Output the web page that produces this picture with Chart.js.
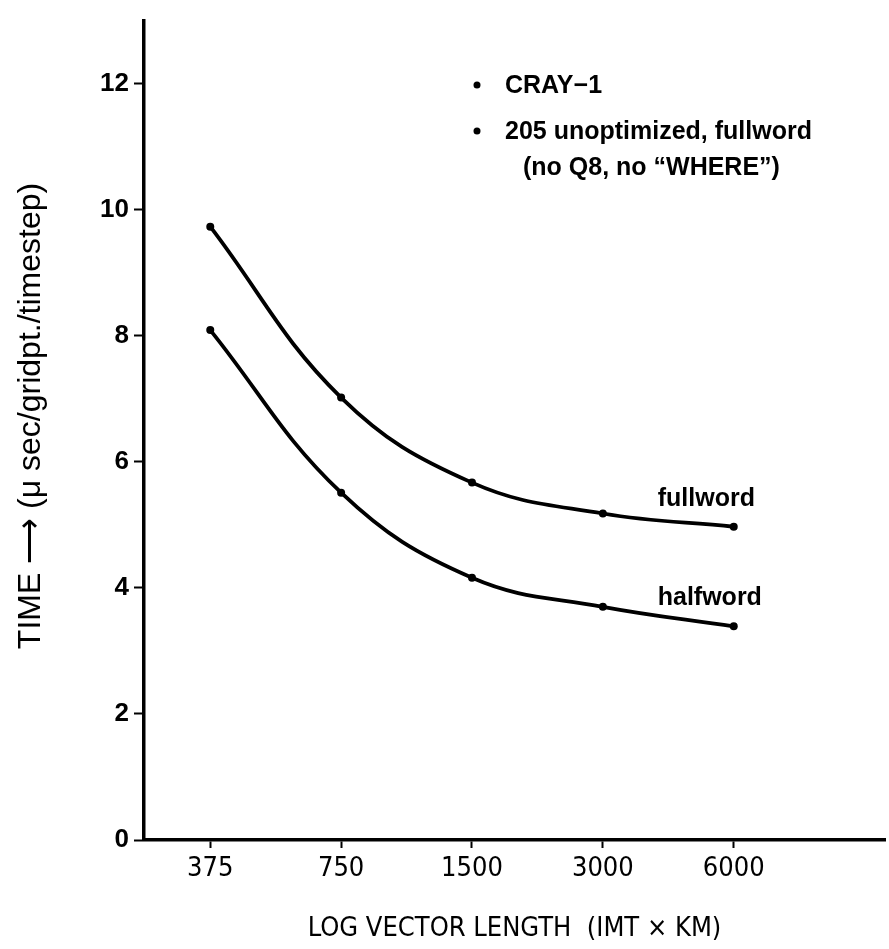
<!DOCTYPE html>
<html><head><meta charset="utf-8">
<script src="https://cdn.jsdelivr.net/npm/chart.js@4/dist/chart.umd.min.js"></script>
<style>html,body{margin:0;padding:0;background:#fff;} canvas{display:block;}</style>
</head><body>
<canvas id="c" width="889" height="949"></canvas>
<script>
const vectorLengths = [375, 750, 1500, 3000, 6000];
const fullwordTimes = [9.73, 7.02, 5.67, 5.18, 4.97];
const halfwordTimes = [8.09, 5.51, 4.16, 3.70, 3.39];
const xTickValues = [375, 750, 1500, 3000, 6000];
const yTickValues = [0, 2, 4, 6, 8, 10, 12];
const seriesNames = ['fullword', 'halfword'];
const legendLines = ['CRAY\u22121', '205 unoptimized, fullword', '(no Q8, no \u201CWHERE\u201D)'];
const xAxisTitle = 'LOG VECTOR LENGTH  (IMT \u00D7 KM)';
const yAxisTitle = 'TIME \u27F6 (\u03BC sec/gridpt./timestep)';

const NARROW = '"DejaVu Sans Condensed", "Liberation Sans Narrow", "Liberation Sans", sans-serif';
const SANS = '"Liberation Sans", Arial, sans-serif';

const annot = {
  id: 'annot',
  afterDraw(chart) {
    const {ctx} = chart;
    ctx.save();
    ctx.fillStyle = '#000';
    // y axis title
    ctx.save();
    ctx.font = '32px ' + SANS;
    ctx.textAlign = 'center';
    ctx.textBaseline = 'middle';
    ctx.translate(31, 416);
    ctx.rotate(-Math.PI / 2);
    ctx.fillText(yAxisTitle, 0, 0);
    ctx.restore();
    // curve labels
    ctx.font = 'bold 25px ' + SANS;
    ctx.textAlign = 'left';
    ctx.textBaseline = 'middle';
    seriesNames.forEach((name, i) => {
      const meta = chart.getDatasetMeta(i);
      const pt = meta.data[meta.data.length - 1];
      ctx.fillText(name, pt.x - 76, pt.y - 28);
    });
    // legend
    const bullets = [[477, 85], [477, 131]];
    bullets.forEach(([bx, by]) => {
      ctx.beginPath();
      ctx.arc(bx, by, 3.5, 0, Math.PI * 2);
      ctx.fill();
    });
    ctx.fillText(legendLines[0], 505, 86);
    ctx.fillText(legendLines[1], 505, 132);
    ctx.fillText(legendLines[2], 523, 168);
    ctx.restore();
  }
};

const mkData = (vals) => vectorLengths.map((v, i) => ({x: v, y: vals[i]}));
const lineStyle = {
  borderColor: '#000', backgroundColor: '#000', borderWidth: 3.8,
  pointRadius: 4, pointBackgroundColor: '#000', pointBorderWidth: 0,
  tension: 0.4, fill: false
};

new Chart(document.getElementById('c'), {
  type: 'line',
  data: {
    datasets: [
      Object.assign({label: seriesNames[0], data: mkData(fullwordTimes)}, lineStyle),
      Object.assign({label: seriesNames[1], data: mkData(halfwordTimes)}, lineStyle)
    ]
  },
  options: {
    responsive: false,
    animation: false,
    devicePixelRatio: 1,
    layout: {padding: {top: 13, right: 0, left: 0, bottom: 0}},
    plugins: {legend: {display: false}, tooltip: {enabled: false}},
    scales: {
      x: {
        type: 'logarithmic',
        min: 264, max: 13370,
        afterBuildTicks: s => { s.ticks = xTickValues.map(v => ({value: v})); },
        afterFit: s => { s.height = 109; },
        ticks: {
          callback: v => String(v), color: '#000', padding: 5,
          font: {family: NARROW, size: 27}, maxRotation: 0, autoSkip: false
        },
        grid: {drawOnChartArea: false, drawTicks: true, tickLength: 8, tickColor: '#000', tickWidth: 2},
        border: {display: true, color: '#000', width: 3.5},
        title: {display: true, text: xAxisTitle, color: '#000',
          font: {family: NARROW, size: 27, lineHeight: 1.2}, padding: {top: 0, bottom: 4}}
      },
      y: {
        type: 'linear',
        min: 0, max: 13,
        afterBuildTicks: s => { s.ticks = yTickValues.map(v => ({value: v})); },
        afterFit: s => { s.width = 144; },
        ticks: {color: '#000', padding: 5, font: {family: SANS, size: 26, weight: 'bold'}},
        grid: {drawOnChartArea: false, drawTicks: true, tickLength: 10, tickColor: '#000', tickWidth: 2},
        border: {display: true, color: '#000', width: 3.5}
      }
    }
  },
  plugins: [annot]
});
</script>
</body></html>
